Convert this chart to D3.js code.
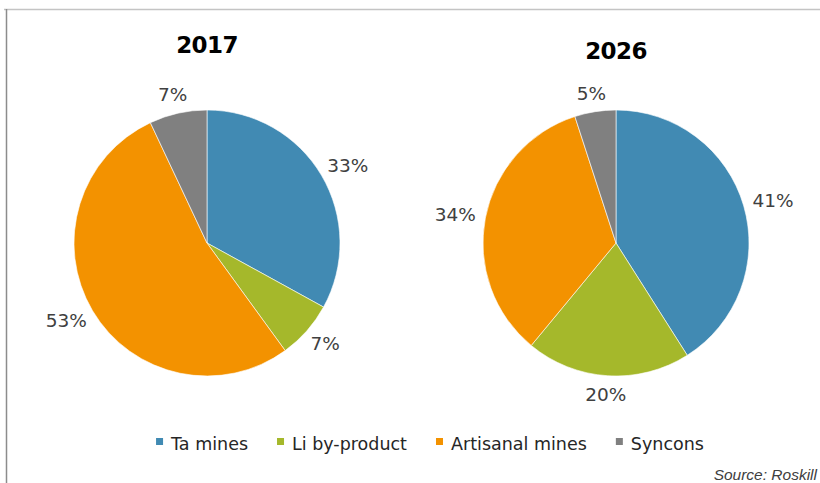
<!DOCTYPE html>
<html>
<head>
<meta charset="utf-8">
<script src="https://cdn.jsdelivr.net/npm/d3@7"></script>
<style>
    body { margin: 0; background: #fff; }
    svg { display: block; }
    .title { font-family: "DejaVu Sans", Verdana, sans-serif; font-weight: bold; font-size: 23px; fill: #000; letter-spacing: -0.6px; }
    .label { font-family: "DejaVu Sans", Verdana, sans-serif; font-size: 18.5px; fill: #404040; }
    .legend text { font-family: "DejaVu Sans", Verdana, sans-serif; font-size: 17.5px; fill: #262626; }
    .source { font-family: "Liberation Sans", Arial, sans-serif; font-style: italic; font-size: 15.5px; fill: #404040; }
</style>
</head>
<body>
<script>
var width = 820,
    height = 483;

var categories = ['Ta mines', 'Li by-product', 'Artisanal mines', 'Syncons'];
var colors = ['#418ab3', '#a5b82b', '#f39200', '#808080'];
var years = ['2017', '2026'];
var share2017 = [33, 7, 53, 7];
var share2026 = [41, 20, 34, 5];
var sourceText = 'Source: Roskill';

var svg = d3.select('body')
    .append('svg')
    .attr('width', width)
    .attr('height', height);

// frame lines (top + left) like the cropped original
svg.append('line')
    .attr('x1', 4).attr('x2', width).attr('y1', 9.5).attr('y2', 9.5)
    .style('stroke', '#c4c4c4').style('stroke-width', 1.5);
svg.append('line')
    .attr('x1', 6.5).attr('x2', 6.5).attr('y1', 9).attr('y2', height)
    .style('stroke', '#8c8c8c').style('stroke-width', 1.5);

var color = d3.scaleOrdinal()
    .domain(categories)
    .range(colors);

var radius = 133;

// horizontal position of each pie
var px = d3.scalePoint()
    .domain(years)
    .range([207, 616]);

var titleY = { '2017': 53, '2026': 59 };

var pie = d3.pie()
    .sort(null)
    .value(d => d.value);

var arc = d3.arc()
    .innerRadius(0)
    .outerRadius(radius);

var series = [
    { year: '2017', values: share2017 },
    { year: '2026', values: share2026 }
];

series.forEach(function(s) {
    var cx = px(s.year), cy = 243;
    var data = s.values.map((v, i) => ({ key: categories[i], value: v }));

    svg.append('text')
        .attr('class', 'title')
        .attr('x', cx)
        .attr('y', titleY[s.year])
        .attr('text-anchor', 'middle')
        .text(s.year);

    var g = svg.append('g')
        .attr('transform', 'translate(' + cx + ',' + cy + ')');

    var arcs = pie(data);

    g.selectAll('path')
        .data(arcs).enter()
        .append('path')
        .attr('d', arc)
        .style('fill', d => color(d.data.key))
        .style('stroke', '#fff')
        .style('stroke-width', 0.6);

    // outside-end labels: box pushed out along the mid angle
    var labels = g.selectAll('text')
        .data(arcs).enter()
        .append('text')
        .attr('class', 'label')
        .attr('text-anchor', 'middle')
        .attr('dy', '0.36em')
        .text(d => d.data.value + '%');

    labels.attr('x', function(d) {
            var a = (d.startAngle + d.endAngle) / 2;
            var w = this.getComputedTextLength();
            return Math.sin(a) * (radius + 10) + Math.sin(a) * w / 2;
        })
        .attr('y', function(d) {
            var a = (d.startAngle + d.endAngle) / 2;
            return -Math.cos(a) * (radius + 10) - Math.cos(a) * 9;
        });
});

// legend
var legend = svg.append('g').attr('class', 'legend');

var items = legend.selectAll('g')
    .data(categories).enter()
    .append('g');

items.append('rect')
    .attr('width', 7)
    .attr('height', 7)
    .attr('y', 438)
    .style('fill', d => color(d));

items.append('text')
    .attr('x', 15)
    .attr('y', 450)
    .text(d => d);

var lx = 0;
var offsets = [];
items.each(function() {
    offsets.push(lx);
    lx += 15 + d3.select(this).select('text').node().getComputedTextLength() + 29;
});
var total = lx - 29;
var startX = 430 - total / 2;
items.attr('transform', (d, i) => 'translate(' + (startX + offsets[i]) + ',0)');

svg.append('text')
    .attr('class', 'source')
    .attr('x', 817)
    .attr('y', 480)
    .attr('text-anchor', 'end')
    .text(sourceText);
</script>
</body>
</html>
